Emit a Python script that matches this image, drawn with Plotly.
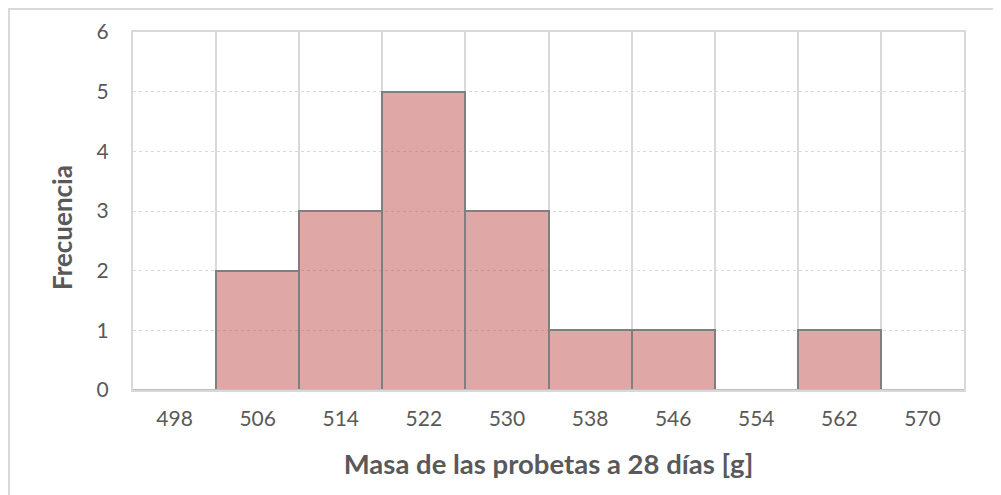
import plotly.graph_objects as go

# clases del histograma (marca de clase) y frecuencias
masa = ["498", "506", "514", "522", "530", "538", "546", "554", "562", "570"]
frecuencia = [0, 2, 3, 5, 3, 1, 1, 0, 1, 0]

gris = "#595959"
fuente = "Lato, 'Open Sans', sans-serif"

fig = go.Figure()
fig.add_trace(go.Bar(
    x=masa, y=frecuencia,
    marker=dict(color="rgba(192,80,77,0.5)",
                line=dict(color="#7f7f7f", width=[2 if f > 0 else 0 for f in frecuencia])),
    width=1,
))

# la página tiene 8px de margen en el body, por eso los márgenes van corridos
fig.update_layout(
    width=1001, height=495,
    margin=dict(l=125, r=45, t=24, b=113),
    paper_bgcolor="white", plot_bgcolor="white",
    bargap=0, showlegend=False,
    font=dict(family=fuente, color=gris, size=16),
)
fig.update_xaxes(
    type="category", tickson="boundaries", automargin=False,
    showgrid=True, gridcolor="#d9d9d9", gridwidth=1.5,
    showline=True, linecolor="#d9d9d9", linewidth=2, mirror=True,
    ticks="", ticklabelstandoff=9,
    tickfont=dict(size=21, color=gris),
    title=dict(text="<b>Masa de las probetas a 28 días [g]</b>", font=dict(size=27.5, color=gris), standoff=26),
)
fig.update_yaxes(
    range=[0, 6], dtick=1, automargin=False,
    showgrid=True, gridcolor="#d9d9d9", griddash="dot", gridwidth=1,
    showline=True, linecolor="#d9d9d9", linewidth=2, mirror=True,
    zeroline=False, ticks="", ticklabelstandoff=18,
    tickfont=dict(size=21, color=gris),
)
# título del eje y, algo más abajo que el centro (como en Excel)
fig.add_annotation(text="<b>Frecuencia</b>", textangle=-90, showarrow=False,
                   xref="paper", yref="paper", x=-0.0854, y=0.4525,
                   xanchor="center", yanchor="middle",
                   font=dict(size=26, color=gris))
# eje inferior un poco más oscuro
fig.add_hline(y=0, line=dict(color="#bfbfbf", width=2))

# borde exterior del gráfico (sólo se ve arriba y a la izquierda)
fig.add_shape(type="rect", xref="paper", yref="paper",
              x0=-124 / 831, x1=1.2, y0=-0.5, y1=(358 + 23) / 358,
              line=dict(color="#d9d9d9", width=2), fillcolor="rgba(0,0,0,0)", layer="below")

fig.write_html("out.html")
